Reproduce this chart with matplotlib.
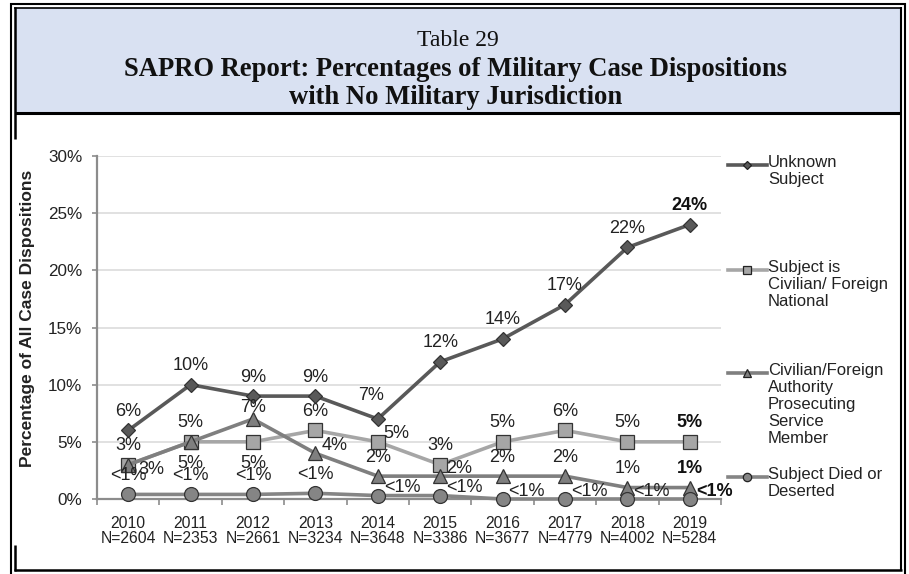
import matplotlib
matplotlib.use('Agg')
import matplotlib.pyplot as plt
from matplotlib.lines import Line2D
from matplotlib.patches import Rectangle

# ---------------- data ----------------
years = ['2010', '2011', '2012', '2013', '2014', '2015', '2016', '2017', '2018', '2019']
n_values = [2604, 2353, 2661, 3234, 3648, 3386, 3677, 4779, 4002, 5284]

unknown_subject = [6, 10, 9, 9, 7, 12, 14, 17, 22, 24]
civilian_national = [3, 5, 5, 6, 5, 3, 5, 6, 5, 5]
foreign_authority = [3, 5, 7, 4, 2, 2, 2, 2, 1, 1]
died_deserted = [0.4, 0.4, 0.4, 0.5, 0.3, 0.3, 0.0, 0.0, 0.0, 0.0]

unknown_labels = ['6%', '10%', '9%', '9%', '7%', '12%', '14%', '17%', '22%', '24%']
civilian_labels = ['3%', '5%', '5%', '6%', '5%', '3%', '5%', '6%', '5%', '5%']
authority_labels = ['3%', '5%', '7%', '4%', '2%', '2%', '2%', '2%', '1%', '1%']
died_labels = ['<1%'] * 10

legend_names = ['Unknown\nSubject',
                'Subject is\nCivilian/ Foreign\nNational',
                'Civilian/Foreign\nAuthority\nProsecuting\nService\nMember',
                'Subject Died or\nDeserted']

title_line1 = 'Table 29'
title_line2 = 'SAPRO Report: Percentages of Military Case Dispositions'
title_line3 = 'with No Military Jurisdiction'
y_label = 'Percentage of All Case Dispositions'

# ---------------- style ----------------
W, H = 909, 574
SANS = ['Liberation Sans', 'DejaVu Sans']
SERIF = ['Liberation Serif', 'DejaVu Serif']

fig = plt.figure(figsize=(W / 100, H / 100), dpi=100)
fig.patch.set_facecolor('white')


def fx(x):
    return x / W


def fy(y):
    return 1 - y / H


def hline(x0, x1, y, lw):
    fig.add_artist(Line2D([fx(x0), fx(x1)], [fy(y), fy(y)], transform=fig.transFigure,
                          color='black', lw=lw, solid_capstyle='butt'))


def vline(x, y0, y1, lw):
    fig.add_artist(Line2D([fx(x), fx(x)], [fy(y0), fy(y1)], transform=fig.transFigure,
                          color='black', lw=lw, solid_capstyle='butt'))


BOX_BOTTOM = 113
fig.add_artist(Rectangle((fx(16), fy(BOX_BOTTOM)), fx(900) - fx(16), fy(8) - fy(BOX_BOTTOM),
                         transform=fig.transFigure, facecolor='#D9E1F2', edgecolor='none'))

# outer double frame
vline(11, 3, 574, 1.5)
hline(10, 906, 4, 1.5)
vline(905, 3, 574, 1.5)
# inner frame
hline(14, 902, 7.6, 1.2)
vline(15, 7, 139, 1.8)
vline(15, 545, 571, 1.8)
vline(901, 7, 571, 1.5)
hline(14, 902, 570, 1.8)
# title box bottom
hline(15, 901, BOX_BOTTOM, 2.2)

fig.text(fx(458), fy(40), title_line1, ha='center', va='center', fontsize=17,
         family=SERIF, color='#111111')
fig.text(fx(456), fy(69), title_line2, ha='center', va='center', fontsize=19.2,
         family=SERIF, fontweight='bold', color='#111111')
fig.text(fx(456), fy(97), title_line3, ha='center', va='center', fontsize=19.2,
         family=SERIF, fontweight='bold', color='#111111')

# ---------------- axes ----------------
ax_left, ax_right, ax_top, ax_bottom = 97, 721, 156, 499
ax = fig.add_axes([fx(ax_left), fy(ax_bottom), fx(ax_right) - fx(ax_left),
                   fy(ax_top) - fy(ax_bottom)])
ax.set_facecolor('none')
xs = list(range(len(years)))
ax.set_xlim(-0.5, len(years) - 0.5)
ax.set_ylim(0, 30)
ax.set_yticks([0, 5, 10, 15, 20, 25, 30])
ax.set_yticklabels([f'{v}%' for v in [0, 5, 10, 15, 20, 25, 30]], family=SANS,
                   fontsize=12.3, color='#222222')
ax.set_xticks(xs)
ax.set_xticklabels([f'{y}\nN={n}' for y, n in zip(years, n_values)], family=SANS,
                   fontsize=11.3, color='#222222', linespacing=1.05)
ax.set_xticks([i - 0.5 for i in range(len(years) + 1)], minor=True)
ax.tick_params(axis='x', which='major', length=0, pad=12)
ax.tick_params(axis='x', which='minor', length=4, width=1.2, color='#8C8C8C')
ax.tick_params(axis='y', length=3.5, width=1.2, color='#8C8C8C', pad=7)
for s in ['top', 'right']:
    ax.spines[s].set_visible(False)
for s in ['left', 'bottom']:
    ax.spines[s].set_color('#8C8C8C')
    ax.spines[s].set_linewidth(1.6)
ax.grid(axis='y', color='#D9D9D9', lw=1.1)
ax.set_axisbelow(True)

fig.text(fx(28), fy(318), y_label, rotation=90, ha='center', va='center',
         family=SANS, fontsize=12.5, fontweight='bold', color='#222222')

series = [
    dict(vals=unknown_subject, labels=unknown_labels, color='#595959', mfc='#595959',
         marker='D', ms=7.2, lms=4.5,
         pos=['a', 'a', 'a', 'a', 'al', 'a', 'a', 'a', 'a', 'a']),
    dict(vals=civilian_national, labels=civilian_labels, color='#A6A6A6', mfc='#A6A6A6',
         marker='s', ms=10.5, lms=6,
         pos=['a', 'b', 'b', 'a', 'r', 'a', 'a', 'a', 'a', 'a']),
    dict(vals=foreign_authority, labels=authority_labels, color='#7F7F7F', mfc='#7F7F7F',
         marker='^', ms=10.5, lms=6,
         pos=['R', 'a', 'an', 'r', 'a', 'r', 'a', 'a', 'a', 'a']),
    dict(vals=died_deserted, labels=died_labels, color='#858585', mfc='#858585',
         marker='o', ms=10, lms=6,
         pos=['a', 'a', 'a', 'a', 'r', 'r', 'r', 'r', 'r', 'r']),
]

offsets = {
    'a': (0, 19, 'center'),
    'al': (-7, 23, 'center'),
    'an': (0, 11, 'center'),
    'b': (0, -22, 'center'),
    'r': (6, 8, 'left'),
    'R': (10, -5, 'left'),
}

for z, s in enumerate(series):
    ax.plot(xs, s['vals'], color=s['color'], lw=2.6, marker=s['marker'],
            ms=s['ms'], mfc=s['mfc'], mec='#333333', mew=0.9, zorder=3 + z,
            clip_on=False)
    for i, (v, lab, p) in enumerate(zip(s['vals'], s['labels'], s['pos'])):
        dx, dy, ha = offsets[p]
        ax.annotate(lab, (i, v), xytext=(dx, dy), textcoords='offset pixels',
                    ha=ha, va='center', family=SANS, fontsize=13,
                    fontweight='bold' if i == len(years) - 1 else 'normal',
                    color='#111111' if i == len(years) - 1 else '#222222',
                    zorder=10, annotation_clip=False)

# ---------------- legend ----------------
leg_y = [165, 270, 373, 477]
for s, name, yy in zip(series, legend_names, leg_y):
    fig.add_artist(Line2D([fx(728), fx(767)], [fy(yy), fy(yy)], transform=fig.transFigure,
                          color=s['color'], lw=2.6))
    fig.add_artist(Line2D([fx(747)], [fy(yy)], transform=fig.transFigure,
                          marker=s['marker'], ms=s['lms'], mfc=s['mfc'], mec='#222222',
                          mew=0.9, lw=0))
    fig.text(fx(768), fy(yy - 10), name, ha='left', va='top', family=SANS,
             fontsize=12, color='#222222', linespacing=1.17)

fig.savefig('out.png', dpi=100)
